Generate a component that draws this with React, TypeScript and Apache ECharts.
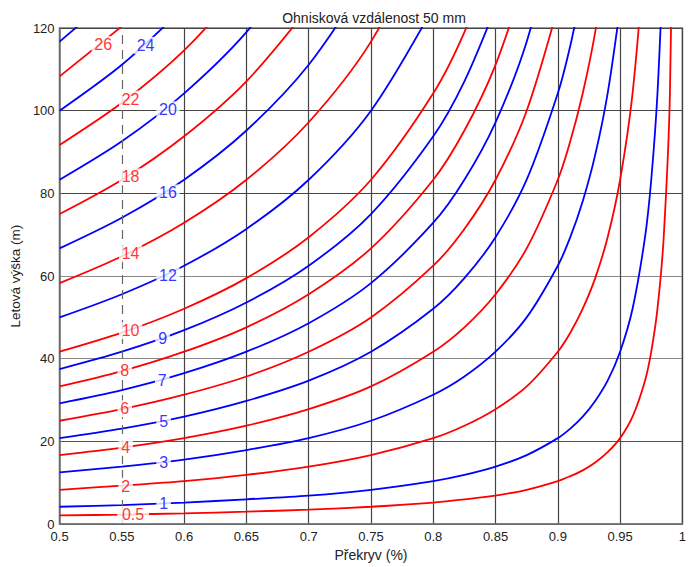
import React, { useEffect, useRef } from 'react';
import * as echarts from 'echarts';

// Sample positions along the overlap axis (Překryv)
const X = [0.5, 0.55, 0.6, 0.65, 0.7, 0.75, 0.8, 0.825, 0.85, 0.875, 0.9, 0.91, 0.92, 0.93, 0.94, 0.95, 0.96, 0.97, 0.975, 0.98, 0.985, 0.99, 0.995];

// Heights (m) at the X positions
const H_0_5 = [2.1, 2.3, 2.6, 3.0, 3.5, 4.2, 5.2, 6.0, 6.9, 8.3, 10.4, 11.6, 13.0, 14.9, 17.4, 20.8, 26.0, 34.7, 41.7, 52.1, 69.4, 104.2, 208.3];
const H_1 = [4.2, 4.6, 5.2, 6.0, 6.9, 8.3, 10.4, 11.9, 13.9, 16.7, 20.8, 23.1, 26.0, 29.8, 34.7, 41.7, 52.1, 69.4, 83.3, 104.2, 138.9];
const H_2 = [8.3, 9.3, 10.4, 11.9, 13.9, 16.7, 20.8, 23.8, 27.8, 33.3, 41.7, 46.3, 52.1, 59.5, 69.4, 83.3, 104.2, 138.9];
const H_3 = [12.5, 13.9, 15.6, 17.9, 20.8, 25.0, 31.3, 35.7, 41.7, 50.0, 62.5, 69.4, 78.1, 89.3, 104.2, 125.0];
const H_4 = [16.7, 18.5, 20.8, 23.8, 27.8, 33.3, 41.7, 47.6, 55.6, 66.7, 83.3, 92.6, 104.2, 119.0, 138.9];
const H_5 = [20.8, 23.1, 26.0, 29.8, 34.7, 41.7, 52.1, 59.5, 69.4, 83.3, 104.2, 115.7, 130.2];
const H_6 = [25.0, 27.8, 31.3, 35.7, 41.7, 50.0, 62.5, 71.4, 83.3, 100.0, 125.0];
const H_7 = [29.2, 32.4, 36.5, 41.7, 48.6, 58.3, 72.9, 83.3, 97.2, 116.7, 145.8];
const H_8 = [33.3, 37.0, 41.7, 47.6, 55.6, 66.7, 83.3, 95.2, 111.1, 133.3];
const H_9 = [37.5, 41.7, 46.9, 53.6, 62.5, 75.0, 93.8, 107.1, 125.0];
const H_10 = [41.7, 46.3, 52.1, 59.5, 69.4, 83.3, 104.2, 119.0, 138.9];
const H_12 = [50.0, 55.6, 62.5, 71.4, 83.3, 100.0, 125.0];
const H_14 = [58.3, 64.8, 72.9, 83.3, 97.2, 116.7, 145.8];
const H_16 = [66.7, 74.1, 83.3, 95.2, 111.1, 133.3];
const H_18 = [75.0, 83.3, 93.8, 107.1, 125.0];
const H_20 = [83.3, 92.6, 104.2, 119.0, 138.9];
const H_22 = [91.7, 101.9, 114.6, 131.0];
const H_24 = [100.0, 111.1, 125.0];
const H_26 = [108.3, 120.4];
const H_28 = [116.7, 129.6];

const LEVELS = ['0.5', '1', '2', '3', '4', '5', '6', '7', '8', '9', '10', '12', '14', '16', '18', '20', '22', '24', '26', '28'];
const HEIGHTS = [H_0_5, H_1, H_2, H_3, H_4, H_5, H_6, H_7, H_8, H_9, H_10, H_12, H_14, H_16, H_18, H_20, H_22, H_24, H_26, H_28];

// Inline curve labels: text and position (overlap, height)
const LABEL_TEXT = ['0.5', '1', '2', '3', '4', '5', '6', '7', '8', '9', '10', '12', '14', '16', '18', '20', '22', '24', '26'];
const LABEL_P = [0.559, 0.5835, 0.553, 0.5835, 0.553, 0.5835, 0.5523, 0.5824, 0.5523, 0.5827, 0.557, 0.587, 0.557, 0.587, 0.557, 0.587, 0.557, 0.569, 0.535];
const LABEL_H = [2.3, 5.0, 9.2, 14.9, 18.5, 24.8, 27.9, 34.8, 37.1, 44.8, 46.8, 60.2, 65.4, 80.1, 84.0, 100.2, 102.8, 115.8, 116.0];

const X_TITLE = 'Překryv (%)';
const Y_TITLE = 'Letová výška (m)';
const TITLE = 'Ohnisková vzdálenost 50 mm';

const RED = '#ff0000';
const BLUE = '#0000ff';
const FONT = '"Liberation Sans", Arial, sans-serif';

const colorOf = (level: string) => (LEVELS.indexOf(level) % 2 === 0 ? RED : BLUE);

export default function App() {
  const ref = useRef<HTMLDivElement>(null);

  useEffect(() => {
    document.body.style.margin = '0';
    if (!ref.current) return;
    const chart = echarts.init(ref.current, undefined, { renderer: 'svg' });

    const lineSeries = HEIGHTS.map((h, i) => ({
      type: 'line',
      name: LEVELS[i],
      data: h.map((v, j) => [X[j], v]),
      showSymbol: false,
      symbol: 'none',
      smooth: 0.3,
      clip: true,
      silent: true,
      z: 3,
      lineStyle: { color: colorOf(LEVELS[i]), width: 1.8 },
      itemStyle: { color: colorOf(LEVELS[i]) },
    }));

    const labelSeries = {
      type: 'scatter',
      silent: true,
      z: 6,
      symbol: 'rect',
      itemStyle: { color: '#ffffff' },
      data: LABEL_TEXT.map((t, i) => ({
        value: [LABEL_P[i], LABEL_H[i]],
        symbolSize: [t.length * 8.6 + 6, 17],
        label: {
          show: true,
          position: 'inside',
          formatter: t,
          color: colorOf(t),
          textBorderWidth: 0,
          textBorderColor: 'transparent',
          fontSize: 16,
          fontFamily: FONT,
        },
      })),
    };

    const gridSeries = {
      type: 'line',
      data: [],
      silent: true,
      z: 1,
      markLine: {
        silent: true,
        symbol: 'none',
        label: { show: false },
        lineStyle: { color: '#666', type: [9, 6], width: 1.2 },
        data: [{ xAxis: 0.55 }],
      },
    };

    chart.setOption({
      animation: false,
      title: {
        text: TITLE,
        left: 369,
        top: 6,
        textAlign: 'center',
        textStyle: { fontSize: 14, fontWeight: 'normal', color: '#222', fontFamily: FONT },
      },
      grid: {
        left: 54,
        right: 4,
        top: 28,
        bottom: 40,
        show: true,
        borderColor: '#777',
        borderWidth: 1.5,
        backgroundColor: 'transparent',
      },
      xAxis: {
        type: 'value',
        min: 0.5,
        max: 1,
        interval: 0.05,
        name: X_TITLE,
        nameLocation: 'middle',
        nameGap: 19,
        nameTextStyle: { fontSize: 14, color: '#222', fontFamily: FONT },
        axisLine: { show: true, lineStyle: { color: '#777', width: 1.5 } },
        axisTick: { show: false },
        axisLabel: { fontSize: 13, color: '#222', margin: 6, fontFamily: FONT },
        splitLine: {
          show: true,
          lineStyle: {
            color: ['#444', 'rgba(0,0,0,0)', '#444', '#444', '#444', '#444', '#444', '#444', '#444', '#444', '#444'],
            width: 1.2,
          },
        },
      },
      yAxis: {
        type: 'value',
        min: 0,
        max: 120,
        interval: 20,
        name: Y_TITLE,
        nameLocation: 'middle',
        nameGap: 34,
        nameTextStyle: { fontSize: 13.5, color: '#222', fontFamily: FONT },
        axisLine: { show: true, lineStyle: { color: '#777', width: 1.5 } },
        axisTick: { show: false },
        axisLabel: { fontSize: 13, color: '#222', margin: 5, fontFamily: FONT },
        splitLine: {
          show: true,
          lineStyle: {
            color: ['#444', '#555', '#888', '#888', '#444', '#444', '#444'],
            width: 1.2,
          },
        },
      },
      series: [gridSeries, ...lineSeries, labelSeries],
    });

    return () => chart.dispose();
  }, []);

  return <div ref={ref} style={{ width: 689, height: 567 }} />;
}
